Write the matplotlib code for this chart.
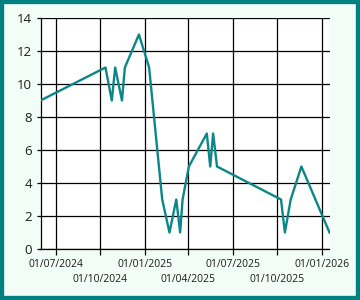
import datetime as dt
import matplotlib
matplotlib.use("Agg")
import matplotlib.pyplot as plt
from matplotlib.patches import Rectangle

dates = ["2024-05-31", "2024-10-12", "2024-10-25", "2024-11-01", "2024-11-15",
         "2024-11-21", "2024-12-20", "2025-01-10", "2025-02-06", "2025-02-21",
         "2025-03-07", "2025-03-15", "2025-03-20", "2025-04-02", "2025-05-09",
         "2025-05-16", "2025-05-22", "2025-05-30", "2025-10-09", "2025-10-17",
         "2025-10-29", "2025-11-20", "2026-01-17"]
values = [9, 11, 9, 11, 9, 11, 13, 11, 3, 1, 3, 1, 3, 5, 7, 5, 7, 5, 3, 1, 3, 5, 1]

tick_dates = ["2024-07-01", "2024-10-01", "2025-01-01", "2025-04-01",
              "2025-07-01", "2025-10-01", "2026-01-01"]
tick_labels = ["01/07/2024", "01/10/2024", "01/01/2025", "01/04/2025",
               "01/07/2025", "01/10/2025", "01/01/2026"]
y_ticks = [0, 2, 4, 6, 8, 10, 12, 14]

x = [dt.datetime.strptime(d, "%Y-%m-%d") for d in dates]
xt = [dt.datetime.strptime(d, "%Y-%m-%d") for d in tick_dates]

bg = "#f3fdf8"
teal = "#008080"

fig = plt.figure(figsize=(3.6, 3.0), dpi=100, facecolor=bg)
ax = fig.add_axes([40.5 / 360, 51 / 300, 289 / 360, 231 / 300])
ax.set_facecolor("white")

ax.plot(x, values, color="#0b8787", lw=1.7, zorder=3)

ax.set_xlim(x[0], x[-1])
ax.set_ylim(0, 14)
ax.set_yticks(y_ticks)
ax.set_xticks(xt)
ax.set_xticklabels(tick_labels)

ax.grid(True, color="black", lw=0.9)
ax.set_axisbelow(True)
for s in ["top", "right"]:
    ax.spines[s].set_visible(False)
for s in ["left", "bottom"]:
    ax.spines[s].set_color("black")
    ax.spines[s].set_linewidth(0.9)

ax.tick_params(axis="x", length=4, width=0.9, labelsize=7.5, pad=3)
ax.tick_params(axis="y", length=3, width=0.9, labelsize=9.5, pad=3)
for lab in ax.get_xticklabels() + ax.get_yticklabels():
    lab.set_fontfamily("Open Sans")
    lab.set_color("#1a1a1a")

# stagger the date labels on two rows
for i, t in enumerate(ax.xaxis.get_major_ticks()):
    if i % 2 == 1:
        t.set_pad(14)

fig.patches.append(Rectangle((0, 0), 1, 1, transform=fig.transFigure,
                             fill=False, edgecolor=teal, lw=6, zorder=10))

fig.savefig("out.png", dpi=100, facecolor=bg)
